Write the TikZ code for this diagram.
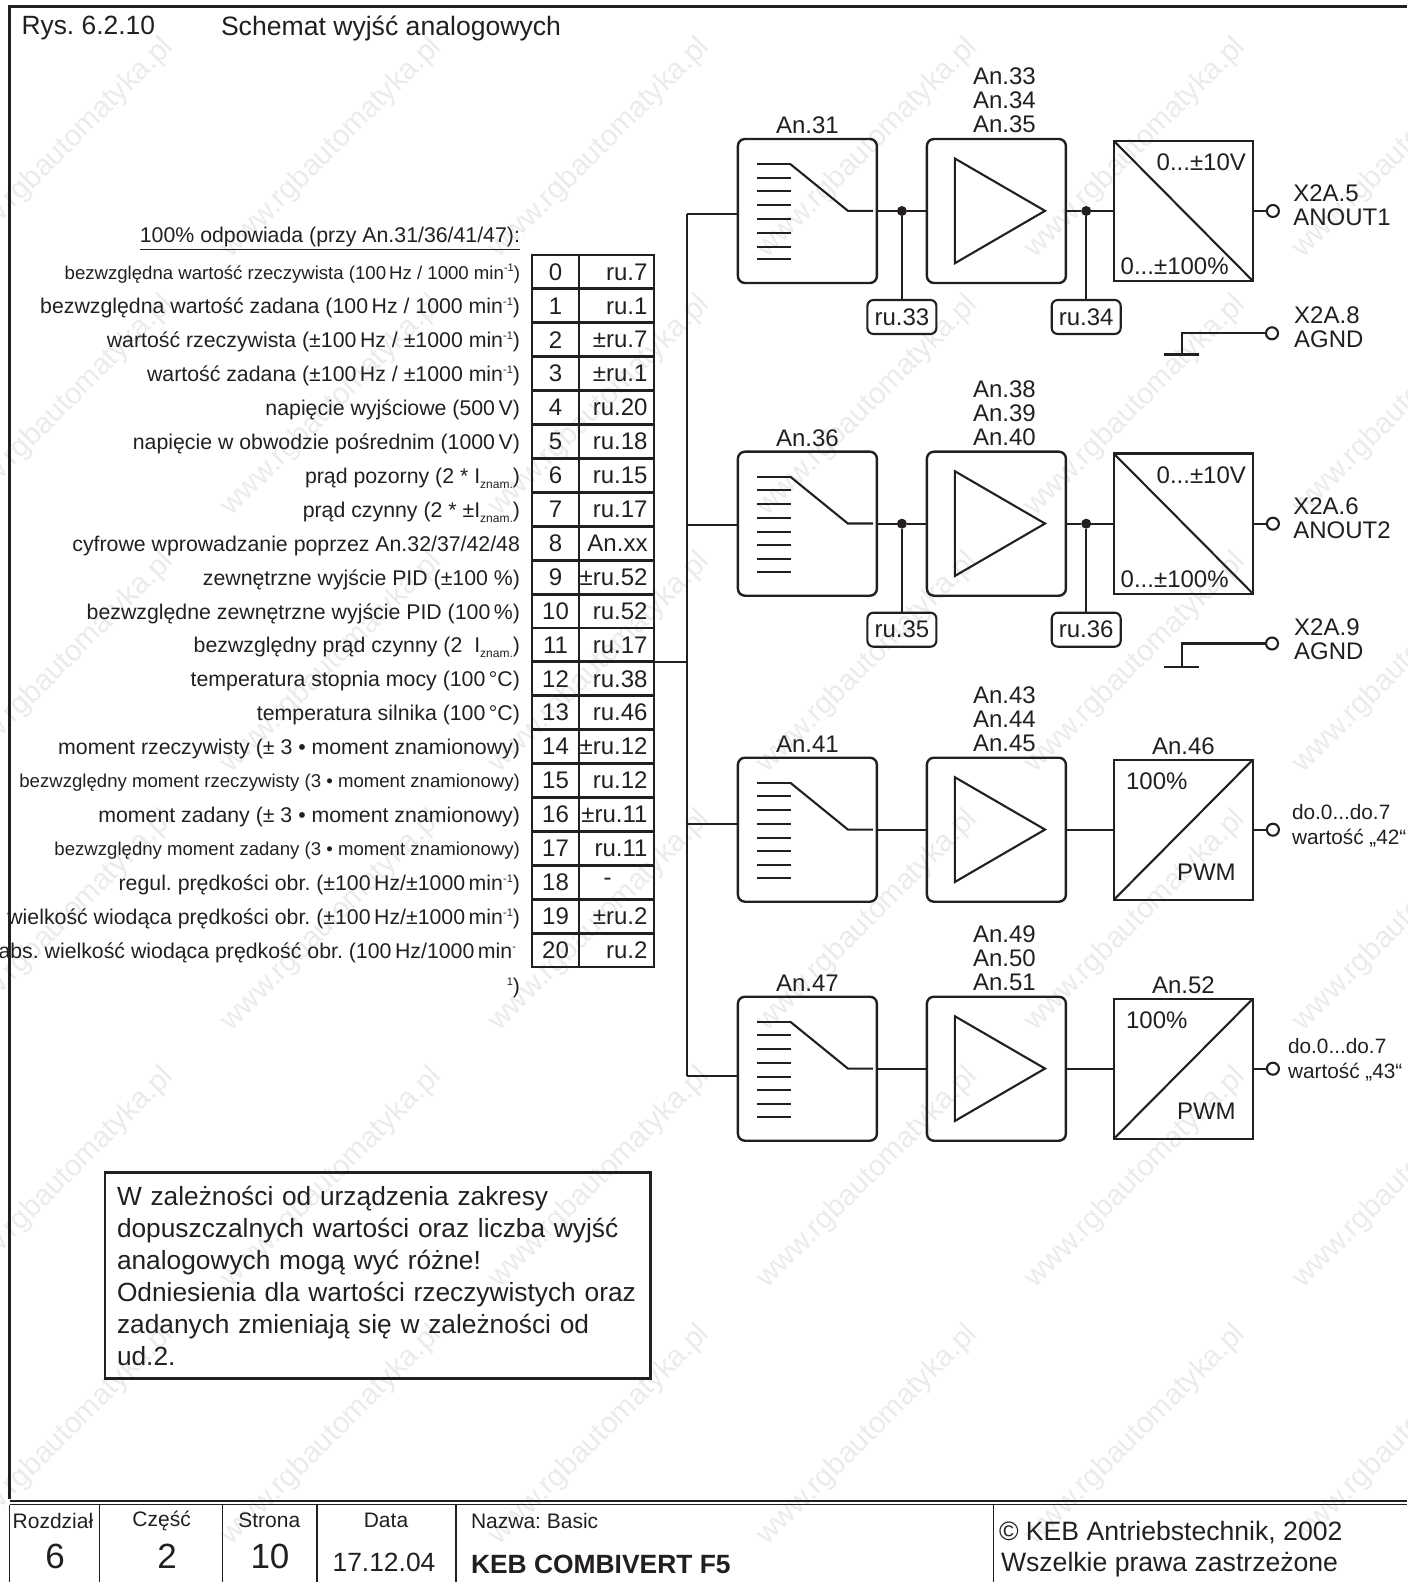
\documentclass[tikz,border=0pt]{standalone}
\usepackage{fontspec}
\setmainfont{Liberation Sans}
\usetikzlibrary{positioning,calc}
\definecolor{ink}{HTML}{231F20}
\definecolor{wmark}{HTML}{EBEBEB}
\newcommand{\smf}{\fontsize{9.3}{12}\selectfont}
\newcommand{\sbs}[1]{\smash{\raisebox{-2.5pt}{\fontsize{6}{6}\selectfont #1}}}
\newcommand{\spr}[1]{\smash{\raisebox{4pt}{\fontsize{5.5}{5.5}\selectfont #1}}}

\begin{document}
\frenchspacing
\begin{tikzpicture}[x=0.5pt,y=-0.5pt,color=ink,line width=1.05pt,
  font=\fontsize{12}{12}\selectfont,inner sep=0pt,outer sep=0pt,
  fb/.style={draw,line width=1.2pt,rounded corners=3.5pt,minimum width=69.5pt,minimum height=72pt},
  cb/.style={draw,line width=1.2pt,minimum width=69.5pt,minimum height=70pt},
  rb/.style={draw,rounded corners=3pt,minimum width=34.5pt,minimum height=17pt},
  nc/.style={draw,line width=1.4pt,minimum width=23.5pt,minimum height=17pt},
  vc/.style={draw,line width=1.4pt,minimum width=37.5pt,minimum height=17pt},
  dot/.style={circle,fill,minimum size=5pt},
  term/.style={circle,draw,fill=white,minimum size=6pt},
  lb/.style={anchor=east,yshift=-1.2pt,font=\fontsize{10.65}{12}\selectfont},
  wm/.style={anchor=east,rotate=45,text=wmark,font=\fontsize{14.8}{14.8}\selectfont}]
  \useasboundingbox (0,0) rectangle (1407,1582);
  \foreach \cl in {0,...,5}
    \foreach \rw in {0,...,5}
      \node[wm] (w\cl\rw) at ({169+268*\cl},{43+257.4*\rw}) {www.rgbautomatyka.pl};

  \draw[line width=1.4pt] (1407,6.5) -| (9.5,1499);
  \node[font=\fontsize{13.2}{13.2}\selectfont,anchor=west] (nr) at (21.5,28) {Rys. 6.2.10};
  \node[font=\fontsize{13.3}{13.3}\selectfont,anchor=west] (ti) at (221,28) {Schemat wyjść analogowych};

  % table
  \foreach \i/\v in {0/ru.7,1/ru.1,2/±ru.7,3/±ru.1,4/ru.20,5/ru.18,6/ru.15,7/ru.17,8/An.xx,9/±ru.52,10/ru.52,
    11/ru.17,12/ru.38,13/ru.46,14/±ru.12,15/ru.12,16/±ru.11,17/ru.11,18/{-\hspace{18pt}},19/±ru.2,20/ru.2}{
    \pgfmathsetmacro{\dr}{\i>9?-1.5:0}
    \node[nc] (n\i) at (555.5,{272+33.9*\i}) {\raisebox{\dr pt}{\i}};
    \node[vc,right=0pt of n\i] (v\i) {\makebox[31pt][r]{\v}};
  }
  \node[lb] (hd) at (520,236.6) {\underline{100\% odpowiada (przy An.31/36/41/47):}};
  \node[lb,left=6pt of n0] (l0) {\smf bezwzględna wartość rzeczywista (100\,Hz / 1000 min\spr{-1})};
  \node[lb,left=6pt of n1] (l1) {bezwzględna wartość zadana (100\,Hz / 1000 min\spr{-1})};
  \node[lb,left=6pt of n2] (l2) {wartość rzeczywista (±100\,Hz / ±1000 min\spr{-1})};
  \node[lb,left=6pt of n3] (l3) {wartość zadana (±100\,Hz / ±1000 min\spr{-1})};
  \node[lb,left=6pt of n4] (l4) {napięcie wyjściowe (500\,V)};
  \node[lb,left=6pt of n5] (l5) {napięcie w obwodzie pośrednim (1000\,V)};
  \node[lb,left=6pt of n6] (l6) {prąd pozorny (2 * I\sbs{znam.})};
  \node[lb,left=6pt of n7] (l7) {prąd czynny (2 * ±I\sbs{znam.})};
  \node[lb,left=6pt of n8] (l8) {cyfrowe wprowadzanie poprzez An.32/37/42/48};
  \node[lb,left=6pt of n9] (l9) {zewnętrzne wyjście PID (±100 \%)};
  \node[lb,left=6pt of n10] (l10) {bezwzględne zewnętrzne wyjście PID (100\,\%)};
  \node[lb,left=6pt of n11] (l11) {bezwzględny prąd czynny (2~~I\sbs{znam.})};
  \node[lb,left=6pt of n12] (l12) {temperatura stopnia mocy (100\,°C)};
  \node[lb,left=6pt of n13] (l13) {temperatura silnika (100\,°C)};
  \node[lb,left=6pt of n14] (l14) {moment rzeczywisty (± 3 • moment znamionowy)};
  \node[lb,left=6pt of n15] (l15) {\smf bezwzględny moment rzeczywisty (3 • moment znamionowy)};
  \node[lb,left=6pt of n16] (l16) {moment zadany (± 3 • moment znamionowy)};
  \node[lb,left=6pt of n17] (l17) {\smf bezwzględny moment zadany (3 • moment znamionowy)};
  \node[lb,left=6pt of n18] (l18) {regul. prędkości obr. (±100\,Hz/±1000\,min\spr{-1})};
  \node[lb,left=6pt of n19] (l19) {wielkość wiodąca prędkości obr. (±100\,Hz/±1000\,min\spr{-1})};
  \node[anchor=north east,align=right,font=\fontsize{10.65}{17.5}\selectfont] (l20) at ([xshift=-6pt,yshift=3.5pt]n20.west)
    {abs. wielkość wiodąca prędkość obr. (100\,Hz/1000\,min\spr{-}\hspace*{2pt}\\\spr{1})};

  % channels
  \foreach \n/\y/\fl/\al in {1/139/An.31/{An.33\\An.34\\An.35},2/451.7/An.36/{An.38\\An.39\\An.40},
    3/757.7/An.41/{An.43\\An.44\\An.45},4/996.7/An.47/{An.49\\An.50\\An.51}}{
    \node[fb,anchor=north west] (f\n) at (737.9,\y) {};
    \node[fb,right=25pt of f\n] (a\n) {};
    \node[cb,right=24pt of a\n] (c\n) {};
    \node[term,right=7pt of c\n] (o\n) {};
    \node[above=2.5pt of f\n] (lf\n) {\fl};
    \node[align=center,above=3pt of a\n,xshift=4pt] (la\n) {\al};
    \begin{scope}[shift={(f\n.north west)}]
      \foreach \k in {25.3,38.7,52.3,66,80,93.7,107.7,120.3}
        \draw (19.4,\k) -- (52.7,\k);
      \draw (52.7,25.3) -- (110,71.85) -- (135.2,71.85);
    \end{scope}
    \begin{scope}[shift={(a\n.north west)}]
      \draw (27.9,19.5) -- (118.1,71.85) -- (27.9,124.3) -- cycle;
    \end{scope}
    \draw (c\n.east) -- (o\n);
  }
  \foreach \n/\ra/\rc in {1/ru.33/ru.34,2/ru.35/ru.36}{
    \node[dot] (j\n) at ([xshift=12.5pt]f\n.east) {};
    \node[dot] (k\n) at ([xshift=10.15pt]a\n.east) {};
    \node[rb,below=42pt of j\n] (r\n) {\ra};
    \node[rb,below=42pt of k\n] (s\n) {\rc};
    \draw (f\n.east) -- (j\n);
    \draw (j\n) -- (a\n.west);
    \draw (a\n.east) -- (k\n);
    \draw (k\n) -- (c\n.west);
    \draw (j\n) -- (j\n |- r\n.north);
    \draw (k\n) -- (k\n |- s\n.north);
    \draw (c\n.north west) -- (c\n.south east);
    \begin{scope}[shift={(c\n.north west)}]
      \node[anchor=east] (ca\n) at (132,21.6) {0...±10V};
      \node[anchor=west] (cd\n) at (6.8,125.3) {0...±100\%};
    \end{scope}
  }
  \foreach \n/\lc in {3/An.46,4/An.52}{
    \draw (f\n.east) -- (a\n.west);
    \draw (a\n.east) -- (c\n.west);
    \draw (c\n.south west) -- (c\n.north east);
    \node[above=2.5pt of c\n] (lc\n) {\lc};
    \begin{scope}[shift={(c\n.north west)}]
      \node[anchor=west] (ca\n) at (12.2,22) {100\%};
      \node[anchor=east] (cd\n) at (121.8,112.7) {PWM};
    \end{scope}
  }
  \node[align=left,anchor=west] (x1) at (1293.3,205) {X2A.5\\ANOUT1};
  \node[align=left,anchor=west] (x2) at (1293.3,518) {X2A.6\\ANOUT2};
  \node[align=left,anchor=west,font=\fontsize{10.4}{12.5}\selectfont] (x3) at (1292,825.5) {do.0...do.7\\wartość „42“};
  \node[align=left,anchor=west,font=\fontsize{10.4}{12.5}\selectfont] (x4) at (1288,1060) {do.0...do.7\\wartość „43“};

  % bus
  \coordinate (b1) at (687,214.3);
  \coordinate (b2) at (687,525);
  \coordinate (b3) at (687,824.3);
  \coordinate (b4) at (687,1076);
  \draw (b1) -- (b4);
  \foreach \n in {1,...,4}
    \draw (b\n) -- (b\n -| f\n.west);
  \draw (v11.south east) -- (v11.south east -| b1);

  % ground
  \foreach \n/\y/\yg/\yt/\la/\lg in {1/333.3/354.7/327/X2A.8/AGND,2/643.5/667/639/X2A.9/AGND}{
    \node[term] (p\n) at (1272,\y) {};
    \coordinate (g\n) at (1182.4,\yg);
    \draw (p\n) -| (g\n);
    \draw[line width=1.2pt] ([xshift=-9pt]g\n) -- ([xshift=8.5pt]g\n);
    \node[align=left,anchor=west] (t\n) at (1294.2,\yt) {\la\\\lg};
  }

  % note
  \node[draw,line width=1.4pt,anchor=north west,align=left,inner xsep=6pt,minimum width=272.7pt,minimum height=103pt,
    text width=260.7pt,font=\fontsize{13.15}{16}\selectfont] (nt) at (105,1172.7)
    {W zależności od urządzenia zakresy\\dopuszczalnych wartości oraz liczba wyjść\\
     analogowych mogą wyć różne!\\Odniesienia dla wartości rzeczywistych oraz\\
     zadanych zmieniają się w zależności od\\ud.2.};

  % footer
  \draw[line width=1.4pt] (9.5,1501) -- (1407,1501);
  \draw[line width=0.5pt] (9.5,1504.5) -- (1407,1504.5);
  \foreach \x in {9.5,99.6,222.6,316.9,456,993.7}
    \draw[line width=0.6pt] (\x,1504.5) -- (\x,1582);
  \foreach \x/\tx/\nm in {53/Rozdział/h1,161.6/Część/h2,269.3/Strona/h3,386/Data/h4}
    \node[font=\fontsize{10.5}{10.5}\selectfont] (\nm) at (\x,1520.7) {\tx};
  \node[font=\fontsize{10.5}{10.5}\selectfont,anchor=west] (h5) at (471,1520.7) {Nazwa: Basic};
  \foreach \x/\tx/\nm in {55/6/d1,167/2/d2,270/10/d3}
    \node[font=\fontsize{17.5}{17.5}\selectfont] (\nm) at (\x,1556) {\tx};
  \node[font=\fontsize{13.2}{13.2}\selectfont] (d4) at (384,1562.5) {17.12.04};
  \node[font=\fontsize{13.2}{13.2}\selectfont\bfseries,anchor=west] (d5) at (471,1564) {KEB COMBIVERT F5};
  \node[font=\fontsize{13.3}{13.3}\selectfont,anchor=west] (c1) at (999,1532.7) {© KEB Antriebstechnik, 2002};
  \node[font=\fontsize{13.3}{13.3}\selectfont,anchor=west] (c2) at (1001,1564.7) {Wszelkie prawa zastrzeżone};
\end{tikzpicture}
\end{document}
